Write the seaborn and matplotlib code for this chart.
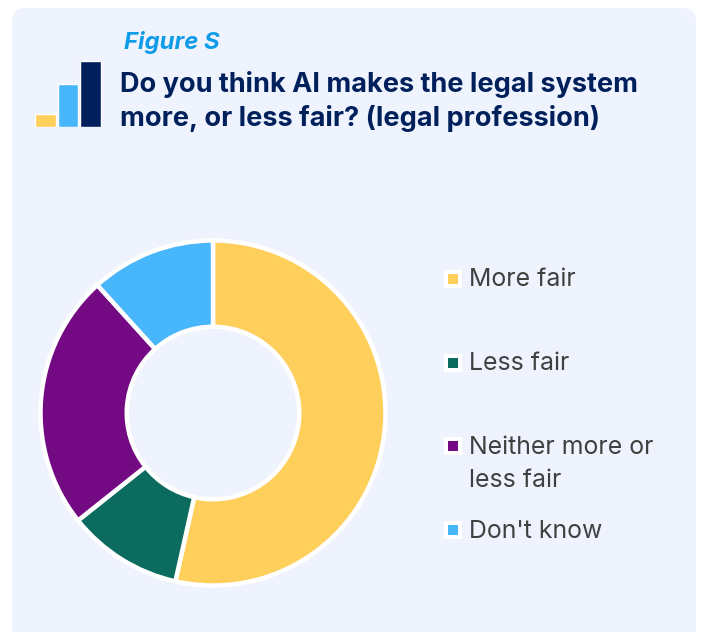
import matplotlib
matplotlib.use("Agg")
import matplotlib.pyplot as plt
from matplotlib.patches import FancyBboxPatch, Rectangle
import pandas as pd
import seaborn as sns

categories = ["More fair", "Less fair", "Neither more or\nless fair", "Don't know"]
shares = [53.5, 10.8, 24.0, 11.7]
colours = ["#FFCF5C", "#0B6B5E", "#740A83", "#48B6FA"]
icon_levels = ["a", "b", "c"]
icon_heights = [13, 42, 65]
icon_colours = ["#FFCF5C", "#48B6FA", "#001F5C"]

W, H = 701, 632
sns.set_theme(style="white")
plt.rcParams["font.family"] = ["Inter", "DejaVu Sans"]

fig = plt.figure(figsize=(W / 100, H / 100), dpi=100, facecolor="white")

# Full-figure layer addressed in pixels, y running downwards
bg = fig.add_axes([0, 0, 1, 1])
bg.set_xlim(0, W)
bg.set_ylim(H, 0)
bg.axis("off")
bg.add_patch(FancyBboxPatch((12 + 14, 8 + 14), 684 - 28, 700, boxstyle="round,pad=14",
                            fc="#EFF3FE", ec="none", clip_on=True))

bg.text(124, 42, "Figure S", color="#0E9BE8", fontsize=17.2, fontweight="bold",
        fontstyle="italic", family=["Inter", "DejaVu Sans"], va="center", ha="left")
title_style = dict(color="#00205C", fontsize=19.5, fontweight="bold", va="center", ha="left")
bg.text(120, 84, "Do you think AI makes the legal system", **title_style)
bg.text(120, 118, "more, or less fair? (legal profession)", **title_style)

# Legend keys and labels
key_rows = [279, 363, 446, 530]
label_rows = [280, 364, 464, 531]
for key_y, text_y, colour, label in zip(key_rows, label_rows, colours, categories):
    bg.add_patch(Rectangle((444, key_y - 9), 18, 18, fc="white", ec="none"))
    bg.add_patch(Rectangle((448, key_y - 5), 10, 10, fc=colour, ec="none"))
    bg.text(469, text_y, label, color="#404040", fontsize=17.9, va="center", ha="left",
            linespacing=1.52)

# Small bar-chart emblem next to the title
icon = fig.add_axes([34.5 / W, 1 - 127 / H, 67 / W, 66 / H])
sns.barplot(data=pd.DataFrame({"level": icon_levels, "height": icon_heights}),
            x="level", y="height", hue="level", palette=icon_colours, legend=False,
            width=0.92, ax=icon, saturation=1)
icon.set_ylim(0, 65)
icon.axis("off")
icon.patch.set_alpha(0)

# Donut, clockwise from twelve o'clock
size = 2 * 176
ax = fig.add_axes([(213 - size / 2) / W, 1 - (413 + size / 2) / H, size / W, size / H])
ax.pie(shares, colors=colours, startangle=90, counterclock=False, radius=1,
       wedgeprops=dict(width=0.5, edgecolor="white", linewidth=3.2))
ax.set_xlim(-176 / 172.5, 176 / 172.5)
ax.set_ylim(-176 / 172.5, 176 / 172.5)
ax.set_aspect("equal")
ax.patch.set_alpha(0)

fig.savefig("out.png", dpi=100, facecolor="white")
